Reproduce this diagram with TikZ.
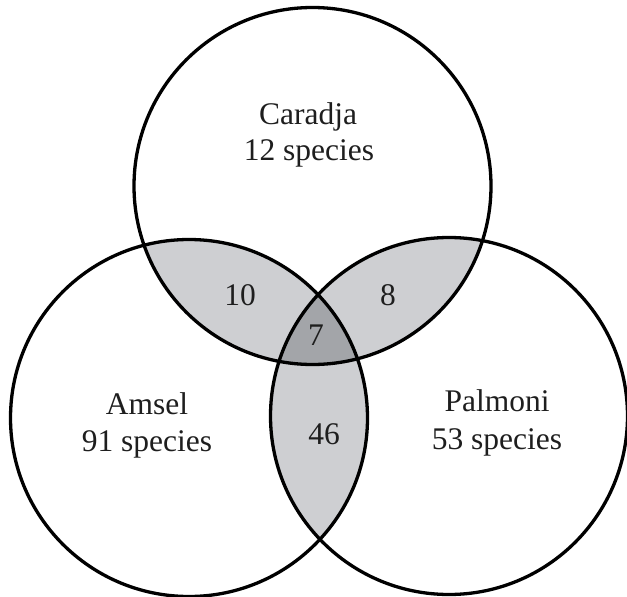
\documentclass[tikz,border=0pt]{standalone}
\usepackage{fontspec}
\setmainfont{Liberation Serif}
\definecolor{lightg}{RGB}{206,207,210}
\definecolor{darkg}{RGB}{163,165,169}
\definecolor{txt}{RGB}{30,30,30}
\begin{document}
\begin{tikzpicture}[x=1pt,y=-1pt,
  ring/.style={line width=3.3pt,draw=black},
  lbl/.style={font=\fontsize{31.5}{36}\selectfont,text=txt,anchor=base,inner sep=0pt,align=center}]
\useasboundingbox (0,0) rectangle (627,597);
\def\R{178.5}
\coordinate (T) at (312.5,186);
\coordinate (L) at (189,418);
\coordinate (Rt) at (449,416);
% pairwise intersections
\begin{scope}
  \clip (T) circle (\R);
  \fill[lightg] (L) circle (\R);
  \fill[lightg] (Rt) circle (\R);
\end{scope}
\begin{scope}
  \clip (L) circle (\R);
  \fill[lightg] (Rt) circle (\R);
\end{scope}
\begin{scope}
  \clip (T) circle (\R);
  \clip (L) circle (\R);
  \fill[darkg] (Rt) circle (\R);
\end{scope}
\draw[ring] (T) circle (\R);
\draw[ring] (L) circle (\R);
\draw[ring] (Rt) circle (\R);
% labels
\node[lbl] (car) at (308,124) {Caradja};
\node[lbl] (cars) at (309,160) {12 species};
\node[lbl] (ams) at (147,414) {Amsel};
\node[lbl] (amss) at (147,451) {91 species};
\node[lbl] (pal) at (497,411) {Palmoni};
\node[lbl] (pals) at (497,449) {53 species};
\node[lbl] (ca) at (240,305) {10};
\node[lbl] (cp) at (388,305) {8};
\node[lbl] (all) at (316,345) {7};
\node[lbl] (ap) at (324,444) {46};
\end{tikzpicture}
\end{document}
